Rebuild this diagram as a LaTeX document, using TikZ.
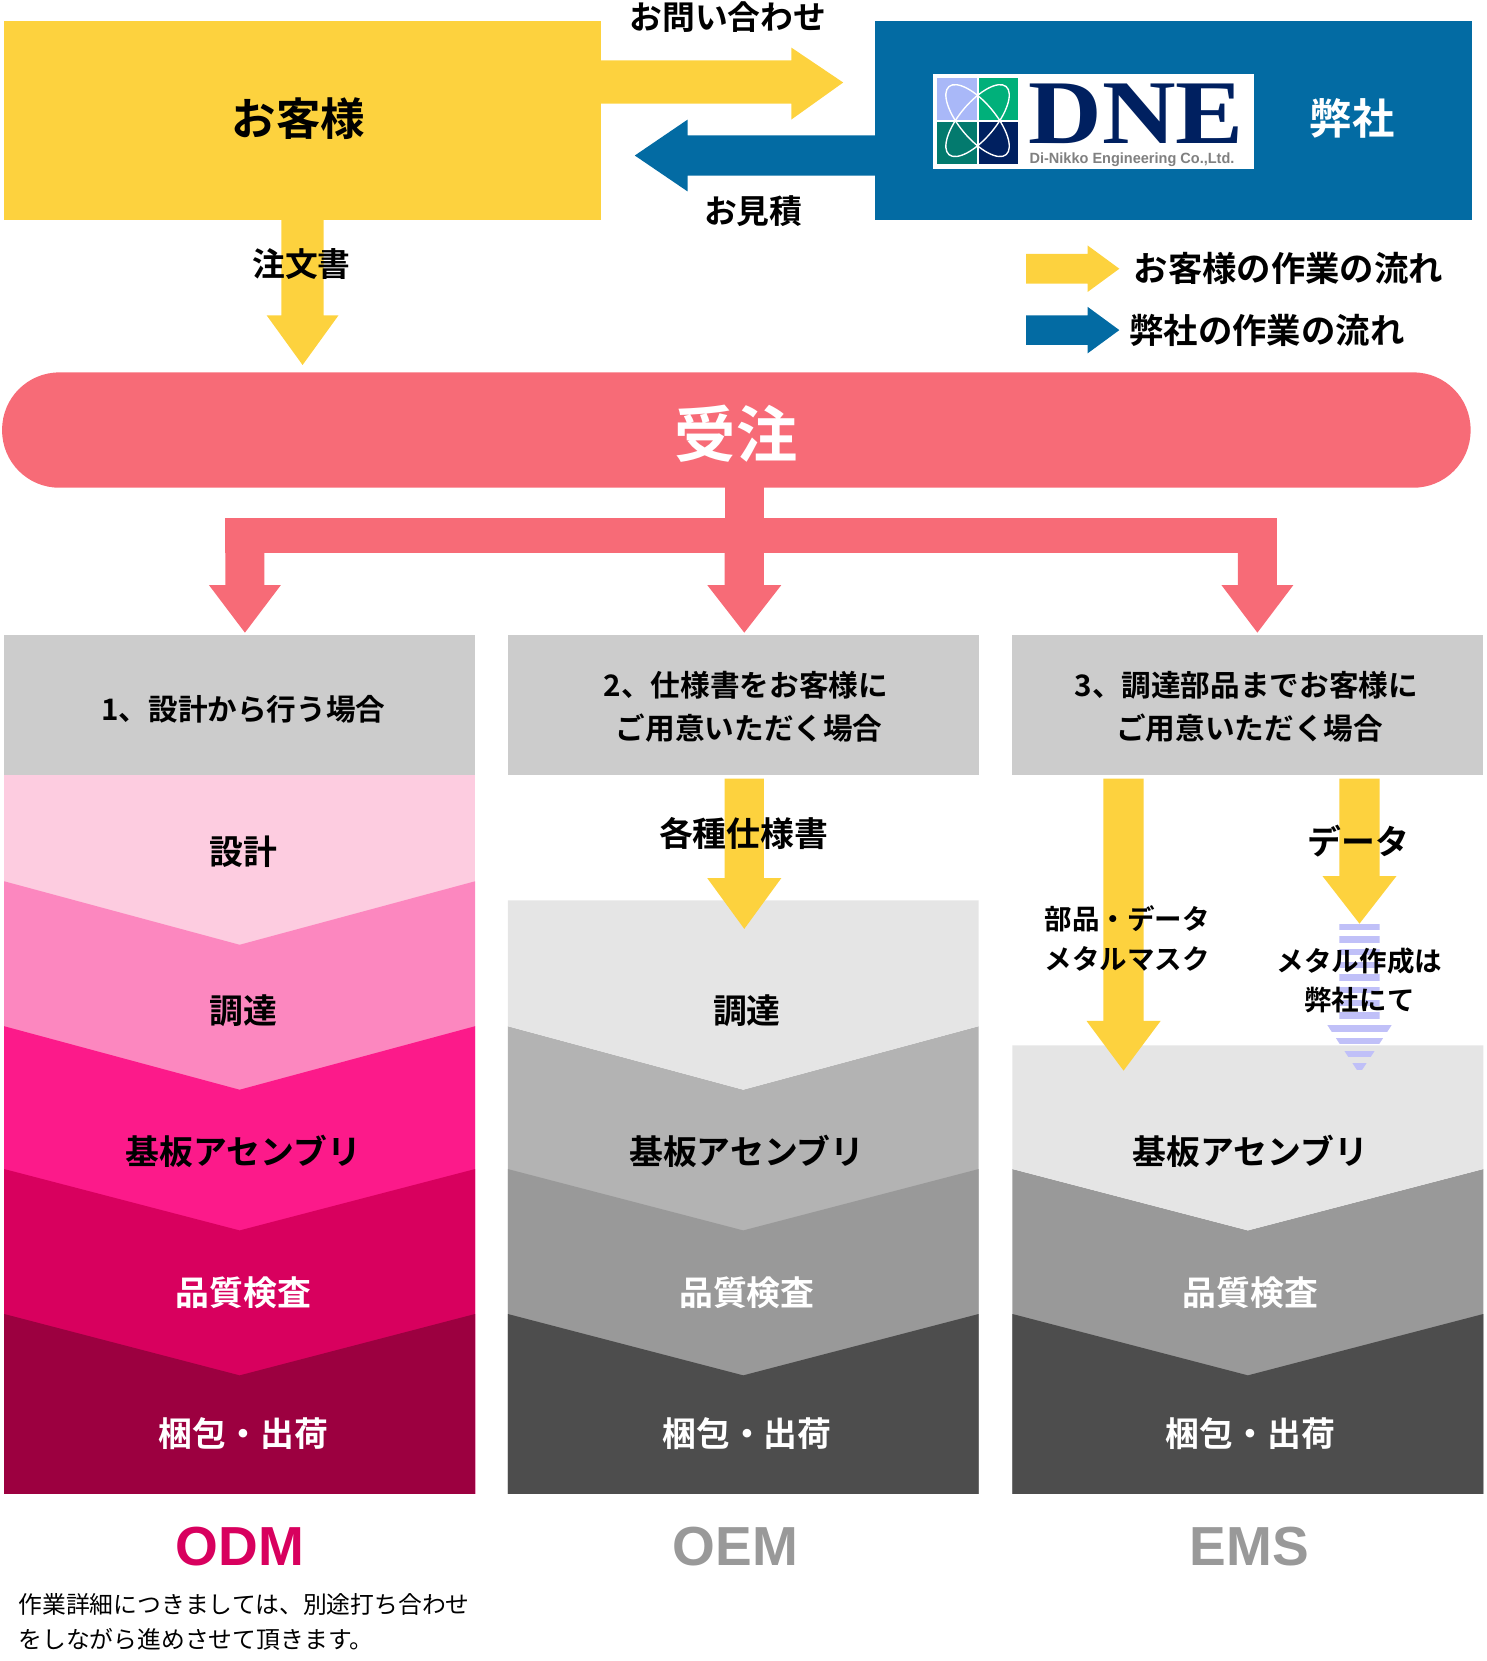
\documentclass[tikz,border=0pt]{standalone}
\usepackage{fontspec}
\setmainfont{Noto Sans CJK JP}[BoldFont={* Bold}]
\newfontfamily\lat{Liberation Sans}
\newfontfamily\lserif{Liberation Serif}
\definecolor{cyel}{HTML}{FDD23E}
\definecolor{cblu}{HTML}{036BA3}
\definecolor{cpink}{HTML}{F76B77}
\definecolor{chead}{HTML}{CCCCCC}
\definecolor{pa}{HTML}{FDCCE0}
\definecolor{pb}{HTML}{FC87BF}
\definecolor{pc}{HTML}{FC1A8A}
\definecolor{pd}{HTML}{D8005E}
\definecolor{pe}{HTML}{9C0040}
\definecolor{ga}{HTML}{E5E5E5}
\definecolor{gb}{HTML}{B3B3B3}
\definecolor{gc}{HTML}{999999}
\definecolor{gd}{HTML}{4D4D4D}
\definecolor{navy}{HTML}{002060}
\definecolor{lav}{HTML}{C0C0F8}
\definecolor{lga}{HTML}{A9B8F8}
\definecolor{lgb}{HTML}{00B07A}
\definecolor{lgc}{HTML}{037A6E}
\tikzset{
 lbl/.style={font=\bfseries\fontsize{32}{34}\selectfont,align=center},
 wlbl/.style={lbl,text=white},
 hdr/.style={font=\bfseries\fontsize{28}{40}\selectfont,align=center},
 big/.style={font=\lat\bfseries\fontsize{52}{52}\selectfont},
}
\newcommand{\darr}[7]{\fill[#7] (#1-#5,#2)--(#1+#5,#2)--(#1+#5,#3)--(#1+#6,#3)--(#1,#4)--(#1-#6,#3)--(#1-#5,#3)--cycle;}
\newcommand{\bandcol}[7]{% xl xr c1..c5
 \pgfmathsetmacro\xc{(#1+#2)/2}
 \fill[#3] (#1,733) rectangle (#2,1412);
 \fill[#4] (#1,833)--(\xc,893)--(#2,833)--(#2,1412)--(#1,1412)--cycle;
 \fill[#5] (#1,970)--(\xc,1030)--(#2,970)--(#2,1412)--(#1,1412)--cycle;
 \fill[#6] (#1,1105)--(\xc,1163)--(#2,1105)--(#2,1412)--(#1,1412)--cycle;
 \fill[#7] (#1,1242)--(\xc,1300)--(#2,1242)--(#2,1412)--(#1,1412)--cycle;}
\begin{document}
\begin{tikzpicture}[x=1pt,y=-1pt]
\useasboundingbox (0,0) rectangle (1405,1570);
% top boxes
\fill[cyel] (4,20) rectangle (568,208);
\node[font=\bfseries\fontsize{42}{42}\selectfont] (cust) at (282,112) {お客様};
\fill[cblu] (827,20) rectangle (1391,208);
\node[font=\bfseries\fontsize{40}{40}\selectfont,text=white] (us) at (1278,112) {弊社};
% arrows between
\fill[cyel] (568,57)--(748,57)--(748,45)--(797,78)--(748,113)--(748,98)--(568,98)--cycle;
\node[font=\bfseries\fontsize{31}{31}\selectfont] (inq) at (688,16) {お問い合わせ};
\fill[cblu] (827,128)--(650,128)--(650,113)--(600,147)--(650,181)--(650,166)--(827,166)--cycle;
\node[font=\bfseries\fontsize{31}{31}\selectfont] (est) at (712,200) {お見積};
% logo
\fill[white] (882,70) rectangle (1185,160);
\fill[lga] (886,74) rectangle (923,113);
\fill[lgb] (925,74) rectangle (962,113);
\fill[lgc] (886,115) rectangle (923,155);
\fill[navy] (925,115) rectangle (962,155);
\begin{scope}
\clip (886,74) rectangle (962,155);
\draw[white,line width=1.3pt,rotate around={-50:(924,114)}] (924,114) ellipse (42 and 17);
\draw[white,line width=1.3pt,rotate around={50:(924,114)}] (924,114) ellipse (42 and 17);
\end{scope}
\node[font=\lserif\bfseries\fontsize{86}{86}\selectfont,text=navy,inner sep=0pt,text depth=0pt,anchor=base west,xscale=1.12] (dne) at (972,136) {DNE};
\node[font=\lat\bfseries\fontsize{14}{14}\selectfont,text=gray,inner sep=0pt,anchor=west,xscale=0.98] (dnes) at (973,151) {Di-Nikko Engineering Co.,Ltd.};
% legend
\fill[cyel] (970,240)--(1028,240)--(1028,232)--(1058,254)--(1028,276)--(1028,268)--(970,268)--cycle;
\node[font=\bfseries\fontsize{32.5}{32}\selectfont,anchor=west] (lg1) at (1068,254) {お客様の作業の流れ};
\fill[cblu] (970,298)--(1028,298)--(1028,290)--(1058,312)--(1028,334)--(1028,326)--(970,326)--cycle;
\node[font=\bfseries\fontsize{32.5}{32}\selectfont,anchor=west] (lg2) at (1064,312) {弊社の作業の流れ};
% order arrow
\darr{286}{208}{298}{345}{20}{34}{cyel}
\node[font=\bfseries\fontsize{31}{31}\selectfont] (ord) at (285,250) {注文書};
% receive bar
\fill[cpink,rounded corners=54pt] (2,352) rectangle (1390,461);
\node[font=\bfseries\fontsize{58}{58}\selectfont,text=white] (rcv) at (696,410) {受注};
% branches
\fill[cpink] (685,455) rectangle (722,523);
\fill[cpink] (213,490) rectangle (1207,523);
\darr{231.5}{500}{553}{598}{18.5}{34}{cpink}
\darr{703.5}{500}{553}{598}{18.5}{35}{cpink}
\darr{1188.5}{500}{553}{598}{18.5}{34}{cpink}
% columns
\bandcol{4}{449}{pa}{pb}{pc}{pd}{pe}
\bandcol{480}{925}{white}{white}{gb}{gc}{gd}
\fill[ga] (480,851)--(925,851)--(925,970)--(702.5,1030)--(480,970)--cycle;
\bandcol{957}{1402}{white}{white}{white}{gc}{gd}
\fill[ga] (957,988)--(1402,988)--(1402,1105)--(1179.5,1163)--(957,1105)--cycle;
\fill[chead] (4,600) rectangle (449,733);
\fill[chead] (480,600) rectangle (925,733);
\fill[chead] (957,600) rectangle (1402,733);
\node[hdr] (h1) at (230,670) {1、設計から行う場合};
\node[hdr] (h2) at (705,668) {2、仕様書をお客様に\\\ ご用意いただく場合};
\node[hdr] (h3) at (1178,668) {3、調達部品までお客様に\\\ ご用意いただく場合};
% col1 labels
\node[lbl] (a1) at (230,805) {設計};
\node[lbl] (a2) at (230,955) {調達};
\node[lbl] (a3) at (230,1088) {基板アセンブリ};
\node[wlbl] (a4) at (230,1222) {品質検査};
\node[wlbl] (a5) at (230,1355) {梱包・出荷};
% col2
\darr{703.5}{736}{830}{878}{18.5}{35}{cyel}
\node[lbl] (spec) at (703,788) {各種仕様書};
\node[lbl] (b2) at (706,955) {調達};
\node[lbl] (b3) at (706,1088) {基板アセンブリ};
\node[wlbl] (b4) at (706,1222) {品質検査};
\node[wlbl] (b5) at (706,1355) {梱包・出荷};
% col3
\darr{1062}{736}{965}{1012}{19}{35}{cyel}
\darr{1285}{736}{828}{873}{19}{35}{cyel}
\begin{scope}
\clip (1266,873)--(1304,873)--(1304,965)--(1318,965)--(1285,1015)--(1252,965)--(1266,965)--cycle;
\foreach \yy in {873,885,...,1013} \fill[lav] (1240,\yy) rectangle (1330,\yy+6);
\end{scope}
\node[lbl] (dat) at (1284,795) {データ};
\node[font=\bfseries\fontsize{26}{37}\selectfont,align=left,anchor=west] (parts) at (984,887) {部品・データ\\メタルマスク};
\node[font=\bfseries\fontsize{26}{37}\selectfont,align=center] (metal) at (1285,927) {メタル作成は\\弊社にて};
\node[lbl] (c3) at (1182,1088) {基板アセンブリ};
\node[wlbl] (c4) at (1182,1222) {品質検査};
\node[wlbl] (c5) at (1182,1355) {梱包・出荷};
% bottom labels
\node[big,text=pd] (odm) at (227,1462) {ODM};
\node[big,text=gc] (oem) at (695,1462) {OEM};
\node[big,text=gc] (ems) at (1181,1462) {EMS};
\node[font=\fontsize{22.5}{33}\selectfont,align=left,anchor=north west] (note) at (14,1503) {作業詳細につきましては、別途打ち合わせ\\をしながら進めさせて頂きます。};
\end{tikzpicture}
\end{document}
